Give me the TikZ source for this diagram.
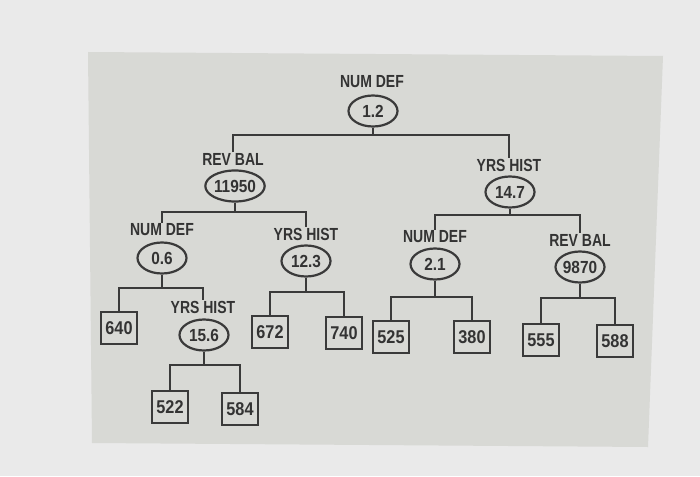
\documentclass[tikz,border=0pt]{standalone}
\usepackage{fontspec}
\setmainfont{Liberation Sans}
\newfontfamily\labfont[FakeStretch=0.8]{Liberation Sans Bold}
\newfontfamily\numfont[FakeStretch=0.88]{Liberation Sans Bold}
\definecolor{outbg}{HTML}{EAEAEA}
\definecolor{panel}{HTML}{D8D9D5}
\definecolor{ink}{HTML}{3A3A3A}
\definecolor{txt}{HTML}{333333}
\tikzset{
  lab/.style={inner sep=0.5pt, text=txt, font=\labfont\fontsize{17.5}{18}\selectfont},
  split/.style={draw=ink, line width=2.2pt, ellipse, minimum width=49pt, minimum height=31pt, inner sep=0pt, text=txt, font=\numfont\fontsize{17.5}{18}\selectfont},
  leaf/.style={draw=ink, line width=2.2pt, rectangle, minimum width=36pt, minimum height=32pt, inner sep=0pt, text=txt, font=\numfont\fontsize{18.5}{19}\selectfont},
  link/.style={draw=ink, line width=2.2pt}
}
\usetikzlibrary{shapes.geometric}
\begin{document}
\begin{tikzpicture}[x=1pt,y=-1pt]
\useasboundingbox (0,0) rectangle (700,476);
\fill[outbg] (0,0) rectangle (700,476);
\fill[panel] (88,52) -- (663,56) -- (648,447) -- (92,443) -- cycle;

% internal nodes
\node[lab] (r0l) at (372,82) {NUM DEF};
\node[split] (r0) at (373,111) {1.2};
\node[lab] (al) at (233,159) {REV BAL};
\node[split] (a) at (235,186) {11950};
\node[lab] (bl) at (509,165) {YRS HIST};
\node[split] (b) at (510,192) {14.7};
\node[lab] (cl) at (162,230) {NUM DEF};
\node[split] (c) at (162,258) {0.6};
\node[lab] (dl) at (306,234) {YRS HIST};
\node[split] (d) at (306,261) {12.3};
\node[lab] (el) at (435,237) {NUM DEF};
\node[split] (e) at (435,264) {2.1};
\node[lab] (fl) at (580,240) {REV BAL};
\node[split] (f) at (580,267) {9870};
\node[lab] (gl) at (203,307) {YRS HIST};
\node[split] (g) at (204,335) {15.6};

% leaves
\node[leaf] (l640) at (119,328) {640};
\node[leaf] (l672) at (270,332) {672};
\node[leaf] (l740) at (344,333) {740};
\node[leaf] (l525) at (391,337) {525};
\node[leaf] (l380) at (472,337) {380};
\node[leaf] (l555) at (541,340) {555};
\node[leaf] (l588) at (615,341) {588};
\node[leaf] (l522) at (170,407) {522};
\node[leaf] (l584) at (240,409) {584};

% bar coordinates
\coordinate (br0) at (373,135);
\coordinate (ba) at (235,212);
\coordinate (bb) at (510,215);
\coordinate (bc) at (162,288);
\coordinate (bd) at (306,292);
\coordinate (be) at (435,297);
\coordinate (bf) at (580,298);
\coordinate (bg) at (204,365);

% connectors
\draw[link] (r0) -- (br0);
\draw[link] (al.north) |- (br0) -| (bl.north);
\draw[link] (a) -- (ba);
\draw[link] (cl.north) |- (ba) -| (dl.north);
\draw[link] (b) -- (bb);
\draw[link] (el.north) |- (bb) -| (fl.north);
\draw[link] (c) -- (bc);
\draw[link] (l640.north) |- (bc) -| (gl.north);
\draw[link] (d) -- (bd);
\draw[link] (l672.north) |- (bd) -| (l740.north);
\draw[link] (e) -- (be);
\draw[link] (l525.north) |- (be) -| (l380.north);
\draw[link] (f) -- (bf);
\draw[link] (l555.north) |- (bf) -| (l588.north);
\draw[link] (g) -- (bg);
\draw[link] (l522.north) |- (bg) -| (l584.north);
\end{tikzpicture}
\end{document}
